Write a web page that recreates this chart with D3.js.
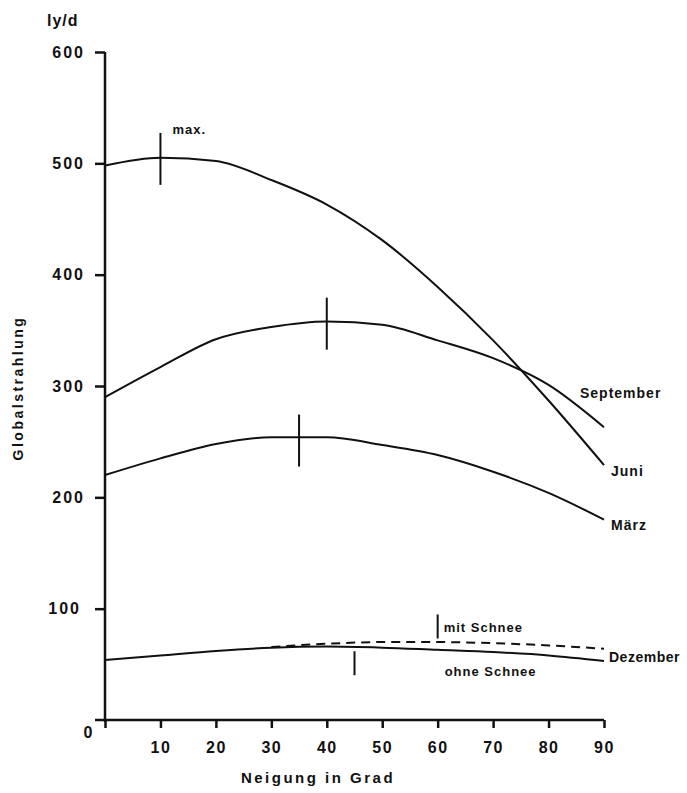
<!DOCTYPE html>
<html>
<head>
<meta charset="utf-8">
<script src="https://cdn.jsdelivr.net/npm/d3@7"></script>
<style>
  body { margin: 0; background: #fff; }
  text { font-family: "Liberation Sans", Arial, sans-serif; font-weight: bold; fill: #111; }
</style>
</head>
<body>
<svg id="chart" width="687" height="793"></svg>
<script>
"use strict";

// Neigung in Grad
const angles = [0, 10, 20, 30, 40, 50, 60, 70, 80, 90];

// Globalstrahlung in ly/d
const juni = [498, 505, 502, 485, 463, 431, 389, 341, 287, 229];
const september = [290, 317, 342, 353, 358, 355, 341, 325, 301, 263];
const maerz = [220, 235, 248, 254, 254, 247, 238, 223, 204, 180];
const dezOhne = [54, 58, 62, 65, 66, 65, 63, 61, 58, 53];
const dezMitAngles = [30, 40, 50, 60, 70, 80, 90];
const dezMit = [65.5, 68.5, 70, 70, 69, 67, 64];

const yTicks = [100, 200, 300, 400, 500, 600];
const xTicks = [10, 20, 30, 40, 50, 60, 70, 80, 90];

// maxima marks: angle, value at mark centre
const maxMarks = [
  { a: 10, v: 504, big: true },
  { a: 40, v: 356, big: true },
  { a: 35, v: 251, big: true },
  { a: 45, v: 51, big: false },
  { a: 60, v: 84, big: false }
];

const svg = d3.select("#chart");

const x = d3.scaleLinear().domain([0, 90]).range([105, 604]);
const y = d3.scaleLinear().domain([0, 600]).range([720, 52]);

// axes
const yAxis = svg.append("g")
  .attr("transform", "translate(105,0)")
  .call(d3.axisLeft(y).tickValues(yTicks).tickSize(10).tickPadding(10).tickSizeOuter(0));
yAxis.select(".domain").attr("stroke", "#111").attr("stroke-width", 2.5)
  .attr("d", `M0,${y(600)}V${y(0) + 2}`);
yAxis.selectAll(".tick line").attr("stroke", "#111").attr("stroke-width", 2.5);
yAxis.selectAll(".tick text")
  .attr("font-size", 16).attr("letter-spacing", 2)
  .attr("font-family", "Liberation Sans, Arial, sans-serif").attr("font-weight", "bold")
  .attr("fill", "#111")
  .attr("x", d => d === 100 ? -24 : -20);

const xAxis = svg.append("g")
  .attr("transform", "translate(0,720)")
  .call(d3.axisBottom(x).tickValues([0].concat(xTicks)).tickSize(8).tickSizeOuter(0)
    .tickFormat(d => d === 0 ? "" : d));
xAxis.select(".domain").attr("stroke", "#111").attr("stroke-width", 2.5)
  .attr("d", `M95,0H${x(90)}`);
xAxis.selectAll(".tick line").attr("stroke", "#111").attr("stroke-width", 2.5);
xAxis.selectAll(".tick text")
  .attr("font-size", 16).attr("letter-spacing", 1.5)
  .attr("font-family", "Liberation Sans, Arial, sans-serif").attr("font-weight", "bold")
  .attr("fill", "#111")
  .attr("y", 22);

svg.append("text").attr("x", 88).attr("y", 738)
  .attr("text-anchor", "middle").attr("font-size", 16).text("0");

// axis titles
svg.append("text").attr("x", 47).attr("y", 26)
  .attr("font-size", 16).attr("letter-spacing", 1).text("ly/d");
svg.append("text").attr("x", 318).attr("y", 783)
  .attr("text-anchor", "middle").attr("font-size", 15).attr("letter-spacing", 2.5)
  .text("Neigung  in  Grad");
svg.append("text")
  .attr("transform", "translate(23,388) rotate(-90)")
  .attr("text-anchor", "middle").attr("font-size", 14).attr("letter-spacing", 2.5)
  .text("Globalstrahlung");

// curves
const line = d3.line()
  .x(d => x(d[0]))
  .y(d => y(d[1]))
  .curve(d3.curveMonotoneX);

const series = [
  { vals: d3.zip(angles, juni), dash: null },
  { vals: d3.zip(angles, september), dash: null },
  { vals: d3.zip(angles, maerz), dash: null },
  { vals: d3.zip(angles, dezOhne), dash: null },
  { vals: d3.zip(dezMitAngles, dezMit), dash: "9,6" }
];

svg.selectAll("path.curve")
  .data(series).enter()
  .append("path")
  .attr("class", "curve")
  .attr("d", d => line(d.vals))
  .attr("fill", "none")
  .attr("stroke", "#111")
  .attr("stroke-width", 2)
  .attr("stroke-dasharray", d => d.dash);

// max marks
svg.selectAll("line.mark")
  .data(maxMarks).enter()
  .append("line")
  .attr("class", "mark")
  .attr("x1", d => x(d.a)).attr("x2", d => x(d.a))
  .attr("y1", d => y(d.v) - (d.big ? 26 : 12))
  .attr("y2", d => y(d.v) + (d.big ? 26 : 12))
  .attr("stroke", "#111").attr("stroke-width", 2);

// labels
const labels = [
  { t: "max.", a: 10, v: 504, dx: 12, dy: -28, fs: 13 },
  { t: "September", a: 90, v: september[8], dx: -24, dy: 9, fs: 14 },
  { t: "Juni", a: 90, v: juni[9], dx: 7, dy: 7, fs: 14 },
  { t: "März", a: 90, v: maerz[9], dx: 7, dy: 7, fs: 14 },
  { t: "Dezember", a: 90, v: dezOhne[9], dx: 5, dy: -3, fs: 14 },
  { t: "mit Schnee", a: 60, v: 84, dx: 6, dy: 2, fs: 13 },
  { t: "ohne Schnee", a: 60, v: 51, dx: 7, dy: 9, fs: 13 }
];

svg.selectAll("text.lab")
  .data(labels).enter()
  .append("text")
  .attr("class", "lab")
  .attr("x", d => x(d.a) + d.dx)
  .attr("y", d => y(d.v) + d.dy)
  .attr("font-size", d => d.fs)
  .attr("letter-spacing", d => d.t === "Dezember" ? 0.5 : 1)
  .attr("dominant-baseline", "middle")
  .text(d => d.t);
</script>
</body>
</html>
